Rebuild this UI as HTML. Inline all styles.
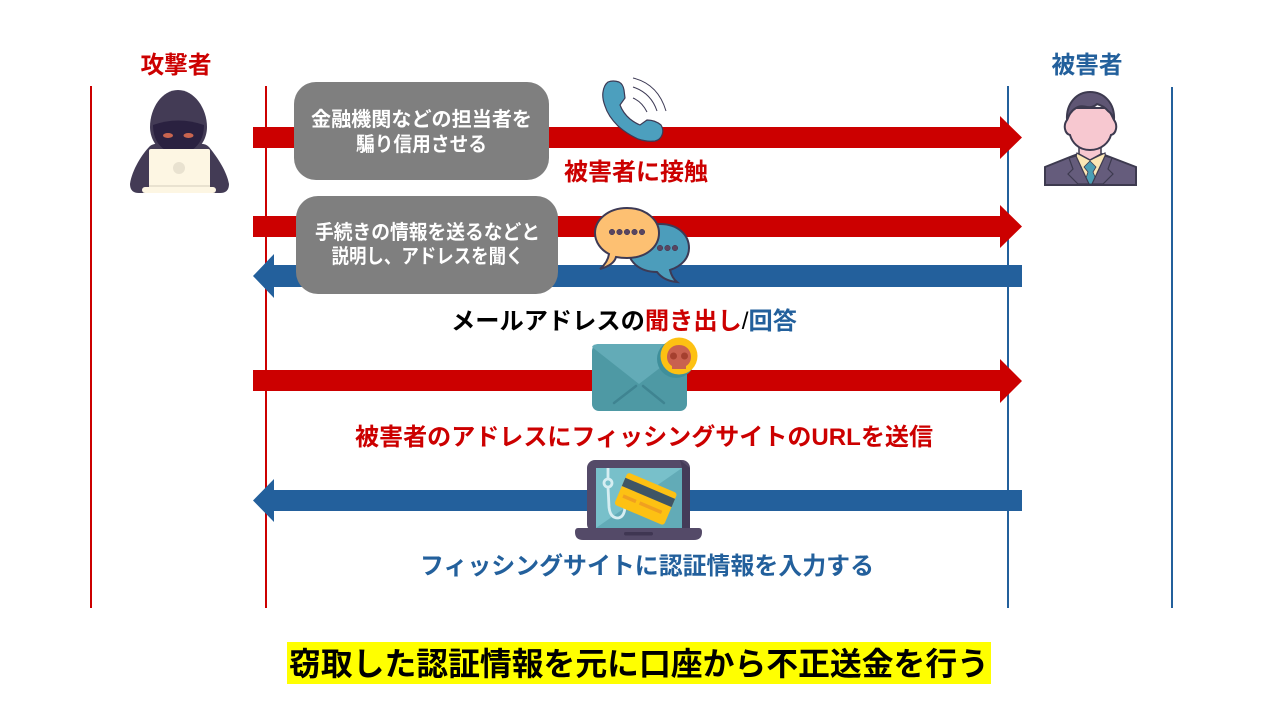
<!DOCTYPE html>
<html lang="ja"><head><meta charset="utf-8"><style>
html,body{margin:0;padding:0;background:#fff;width:1280px;height:720px;overflow:hidden}
svg{display:block}
text{font-family:"Liberation Sans","Noto Sans CJK JP",sans-serif;font-weight:700}
</style></head><body>
<svg width="1280" height="720" viewBox="0 0 1280 720" xmlns="http://www.w3.org/2000/svg">
<rect width="1280" height="720" fill="#fff"/>
<!-- lifelines -->
<g stroke-width="2">
<line x1="91" y1="86" x2="91" y2="608" stroke="#cc0000"/>
<line x1="266" y1="86" x2="266" y2="608" stroke="#cc0000"/>
<line x1="1008" y1="86" x2="1008" y2="608" stroke="#23609c"/>
<line x1="1172" y1="87" x2="1172" y2="608" stroke="#23609c"/>
</g>
<!-- arrows -->
<polygon fill="#cc0000" points="253,127 1000,127 1000,116 1022,137.500 1000,159 1000,148 253,148"/>
<polygon fill="#cc0000" points="253,216 1000,216 1000,205 1022,226.500 1000,248 1000,237 253,237"/>
<polygon fill="#23609c" points="1022,265 274,265 274,254 253,276 274,298 274,287 1022,287"/>
<polygon fill="#cc0000" points="253,370 1000,370 1000,359 1022,381 1000,403 1000,391 253,391"/>
<polygon fill="#23609c" points="1022,490 274,490 274,479 253,500.500 274,522 274,511 1022,511"/>
<!-- boxes -->
<rect x="294" y="82" width="255" height="98" rx="22" fill="#7f7f7f"/>
<rect x="296" y="196" width="262" height="98" rx="22" fill="#7f7f7f"/>
<g fill="#fff" font-size="20" text-anchor="middle">
<text x="421.500" y="126" textLength="221" lengthAdjust="spacingAndGlyphs">金融機関などの担当者を</text>
<text x="421.500" y="151" textLength="131" lengthAdjust="spacingAndGlyphs">騙り信用させる</text>
<text x="427.500" y="239" textLength="225" lengthAdjust="spacingAndGlyphs">手続きの情報を送るなどと</text>
<text x="427.500" y="263" textLength="192" lengthAdjust="spacingAndGlyphs">説明し、アドレスを聞く</text>
</g>
<!-- labels -->
<text x="176" y="73" font-size="24" fill="#cc0000" text-anchor="middle" textLength="71" lengthAdjust="spacingAndGlyphs">攻撃者</text>
<text x="1087" y="73" font-size="24" fill="#23609c" text-anchor="middle" textLength="71" lengthAdjust="spacingAndGlyphs">被害者</text>
<text x="636" y="180" font-size="24" fill="#cc0000" text-anchor="middle" textLength="144" lengthAdjust="spacingAndGlyphs">被害者に接触</text>
<text x="451" y="329" font-size="24" fill="#000" textLength="346" lengthAdjust="spacingAndGlyphs">メールアドレスの<tspan fill="#cc0000">聞き出し</tspan><tspan font-weight="400">/</tspan><tspan fill="#23609c">回答</tspan></text>
<text x="644" y="445" font-size="24" fill="#cc0000" text-anchor="middle" textLength="578" lengthAdjust="spacingAndGlyphs">被害者のアドレスにフィッシングサイトのURLを送信</text>
<text x="647" y="574" font-size="24" fill="#23609c" text-anchor="middle" textLength="454" lengthAdjust="spacingAndGlyphs">フィッシングサイトに認証情報を入力する</text>
<rect x="287" y="642" width="704" height="42" fill="#ffff00"/>
<text x="639" y="675" font-size="32" fill="#000" text-anchor="middle" textLength="700" lengthAdjust="spacingAndGlyphs">窃取した認証情報を元に口座から不正送金を行う</text>
<!-- hacker -->
<path d="M130,184 C132,170 142,154 150,146 Q154,143 160,144 L198,144 Q205,143 209,147 C218,158 227,172 229,184 Q229,193 220,193 L139,193 Q130,193 130,184Z" fill="#433b55"/>
<path d="M178,90 C162,90 150,108 150,127 C150,138 156,148 165,152 L192,152 C201,148 207,138 207,127 C207,108 194,90 178,90Z" fill="#433b55"/>
<path d="M153,125 Q178,116 204,125 Q204,142 192,150 L165,150 Q153,142 153,125Z" fill="#2a2140"/>
<ellipse cx="168" cy="135.500" rx="5" ry="2.500" fill="#c9654f"/>
<ellipse cx="188.500" cy="135.500" rx="5" ry="2.500" fill="#c9654f"/>
<rect x="149" y="149" width="61" height="39" rx="2" fill="#fdf6e3"/>
<circle cx="179" cy="168" r="6" fill="#e9e2d0"/>
<rect x="149" y="185" width="61" height="3" fill="#e9e2d0"/>
<rect x="142" y="187" width="74" height="6" rx="3" fill="#fdf6e3"/>
<!-- phone -->
<path d="M603,92 Q604,85 608,82 Q613,80 619,82 Q623,84 624,90 L625,98 L620,105 Q623,113 630,119 Q635,123 640,125 L647,120 Q655,120 661,125 Q664,130 662,135 Q660,140 655,141 Q647,142 638,139 Q627,134 618,126 Q608,116 605,106 Q602,98 603,92Z" fill="#4c9fbe" stroke="#3d3a55" stroke-width="1.200"/>
<g fill="none" stroke="#3d3a55" stroke-width="1">
<path d="M633,78 Q658,84 666,111"/><path d="M633,87 Q651,93 657,111"/><path d="M633,98 Q642,102 647,112"/>
</g>
<!-- speech bubbles -->
<path d="M660,224 C678,224 689,235 689,248 C689,258 682,266 670,270 Q672,278 677,282 Q664,281 657,272 C640,272 628,262 628,248 C628,235 642,224 660,224Z" fill="#4c9dbb" stroke="#3d3a55" stroke-width="2"/>
<path d="M627,208 C646,208 659,220 659,233 C659,247 646,258 627,258 Q621,258 616,257 Q614,265 600,269 Q608,262 609,254 C601,250 595,242 595,233 C595,220 608,208 627,208Z" fill="#fdc072" stroke="#3d3a55" stroke-width="2"/>
<g fill="#5a4560" stroke="#3d3a55" stroke-width=".5">
<circle cx="612" cy="232" r="2.800"/><circle cx="619.500" cy="232" r="2.800"/><circle cx="627" cy="232" r="2.800"/><circle cx="634.500" cy="232" r="2.800"/><circle cx="642" cy="232" r="2.800"/>
<circle cx="660" cy="248" r="2.800"/><circle cx="667.500" cy="248" r="2.800"/><circle cx="675" cy="248" r="2.800"/>
</g>
<!-- man -->
<path d="M1045,167 L1070,157 L1078,154 L1102,154 L1110,157 L1136,167 L1136,185 L1045,185Z" fill="#655c7c" stroke="#3d3a4f" stroke-width="2"/>
<path d="M1077,153 L1090,160 L1105,153 L1106,160 L1096,184 L1085,184 L1075,160Z" fill="#fbe7b5" stroke="#3d3a4f" stroke-width="1.200"/>
<path d="M1079,146 L1101,146 L1101,154 L1090,160 L1079,154Z" fill="#f7c8d0" stroke="#3d3a4f" stroke-width="1.500"/>
<path d="M1090,161 L1096,167 L1093,172 L1098,184 L1084,184 L1088,172 L1084,167Z" fill="#4b9fb5" stroke="#3d3a4f" stroke-width=".8"/>
<path d="M1069,158 L1076,156 L1089,184 L1078,184 L1068,174 L1073,169Z M1112,158 L1105,156 L1092,184 L1103,184 L1113,174 L1108,169Z" fill="#655c7c" stroke="#3d3a4f" stroke-width="1.200"/>
<path d="M1067,120 Q1064,124 1065,129 Q1066,134 1070,135 C1072,142 1078,150 1090,150 C1102,150 1109,142 1111,135 Q1115,134 1116,129 Q1117,124 1114,120 L1108,108 L1072,108Z" fill="#f7c8d0" stroke="#3d3a4f" stroke-width="2"/>
<path d="M1067,120 C1066,103 1077,92 1090,92 C1104,92 1115,103 1114,120 C1113,116 1111,113 1108,111 Q1104,106 1097,104 Q1093,108 1087,107 Q1080,105 1076,108 C1071,111 1069,115 1067,120Z" fill="#5f5674" stroke="#3d3a4f" stroke-width="2"/>
<!-- envelope -->
<rect x="592" y="344" width="95" height="67" rx="7" fill="#4e99a4"/>
<path d="M592,347 Q593,344 599,344 L680,344 Q686,344 687,347 L639,384Z" fill="#63abb7"/>
<g stroke="#3f8491" stroke-width="2.500" stroke-linecap="round"><line x1="636" y1="386" x2="614" y2="403"/><line x1="643" y1="386" x2="664" y2="403"/></g>
<circle cx="676" cy="359" r="19" fill="#3f8f9b"/>
<circle cx="679" cy="356" r="18.500" fill="#fdc113"/>
<path d="M679,345 C687,345 691,351 691,357 C691,362 688,365 686,366 L686,369 L672,369 L672,366 C670,365 667,362 667,357 C667,351 671,345 679,345Z" fill="#c9614f"/>
<circle cx="673.500" cy="356" r="3.500" fill="#a5402f"/><circle cx="684.500" cy="356" r="3.500" fill="#a5402f"/>
<!-- laptop -->
<rect x="587" y="460" width="103" height="72" rx="8" fill="#544a68"/>
<path d="M680,460 L690,468 L690,530 L682,530 L682,468Z" fill="#443b58"/>
<rect x="596" y="468" width="86" height="60" fill="#62abb7"/>
<path d="M596,468 L682,468 L596,528Z" fill="#78c0ca"/>
<g fill="none" stroke="#d6eef2" stroke-width="2.800"><line x1="608" y1="468" x2="608" y2="480"/><circle cx="608" cy="483" r="4"/><path d="M608,487 L609,507 Q610,518 618,518 Q625,517 625,505"/></g>
<g transform="rotate(23 645 498)"><rect x="619" y="481" width="54" height="35" rx="3" fill="#fdc113"/><rect x="619" y="487" width="54" height="9" fill="#3f5565"/><rect x="624" y="503" width="14" height="3.500" fill="#f0a020"/><rect x="642" y="503" width="24" height="3.500" fill="#f0a020"/></g>
<path d="M578,528 L699,528 Q702,528 702,532 Q702,540 694,540 L583,540 Q575,540 575,532 Q575,528 578,528Z" fill="#544a68"/>
<rect x="624" y="532" width="29" height="3.500" rx="1.700" fill="#3f3652"/>
</svg>
</body></html>
